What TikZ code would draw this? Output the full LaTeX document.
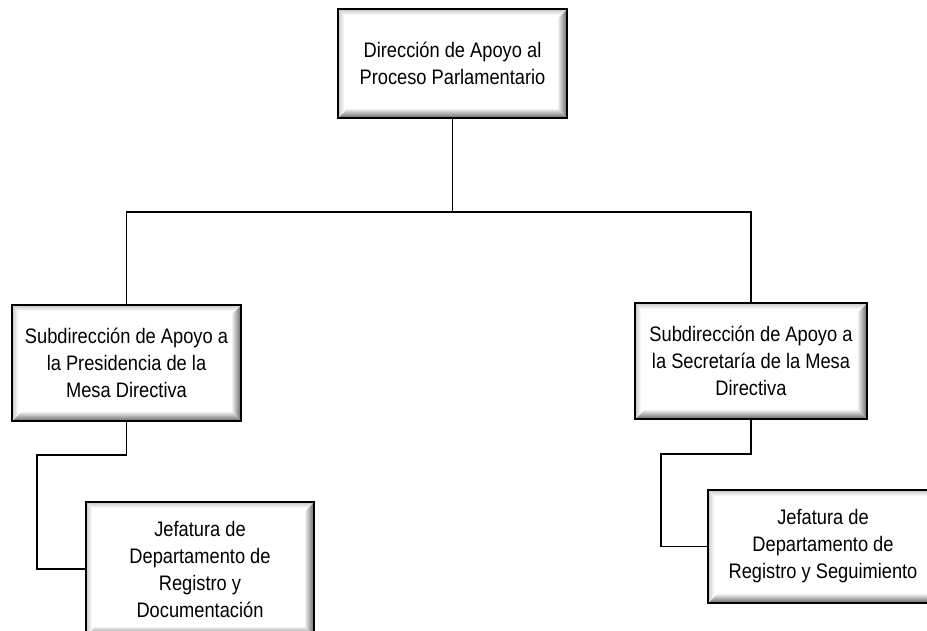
\documentclass[tikz,border=0pt]{standalone}
\usepackage{fontspec}
\setmainfont{Liberation Sans}[FakeStretch=0.87]
\usetikzlibrary{calc}
\tikzset{
  orgbox/.style={rectangle, draw=black, line width=2.4pt, fill=white, inner sep=0pt,
    align=center, font=\fontsize{21}{27}\selectfont,
    path picture={
      \coordinate (ne) at (path picture bounding box.north east);
      \coordinate (se) at (path picture bounding box.south east);
      \coordinate (sw) at (path picture bounding box.south west);
      \coordinate (nw) at (path picture bounding box.north west);
      \shade[left color=white, right color=black!60]
        (ne) -- (se) -- ([shift={(-10pt,10pt)}]se) -- ([shift={(-10pt,-10pt)}]ne) -- cycle;
      \shade[top color=white, bottom color=black!60]
        (sw) -- (se) -- ([shift={(-10pt,10pt)}]se) -- ([shift={(10pt,10pt)}]sw) -- cycle;
      \shade[left color=black!22, right color=white]
        (nw) -- (sw) -- ([shift={(6pt,6pt)}]sw) -- ([shift={(6pt,-6pt)}]nw) -- cycle;
      \shade[top color=black!22, bottom color=white]
        (nw) -- (ne) -- ([shift={(-6pt,-6pt)}]ne) -- ([shift={(6pt,-6pt)}]nw) -- cycle;
    }},
  link/.style={draw=black, line width=1.8pt}
}
\begin{document}
\begin{tikzpicture}[x=1pt, y=-1pt]
\clip (0,0) rectangle (927,630);
\fill[white] (0,0) rectangle (927,630);

\node[orgbox, minimum width=229pt, minimum height=109pt] (top) at (452.5,63.5)
  {Dirección de Apoyo al\\Proceso Parlamentario};
\node[orgbox, minimum width=229pt, minimum height=116pt] (lsub) at (126.5,363)
  {Subdirección de Apoyo a\\la Presidencia de la\\Mesa Directiva};
\node[orgbox, minimum width=232pt, minimum height=116pt] (rsub) at (751,361)
  {Subdirección de Apoyo a\\la Secretaría de la Mesa\\Directiva};
\node[orgbox, minimum width=228pt, minimum height=134pt] (lchild) at (200,569)
  {Jefatura de\\Departamento de\\Registro y\\Documentación};
\node[orgbox, minimum width=230pt, minimum height=113pt] (rchild) at (823,546.5)
  {Jefatura de\\Departamento de\\Registro y Seguimiento};

\coordinate (bus) at (452.5,212);
\coordinate (lbend) at (37,455);
\coordinate (rbend) at (661,454);

\draw[link] (top.south) -- (bus);
\draw[link] (bus) -| (lsub.north);
\draw[link] (bus) -| (rsub.north);
\draw[link] (lsub.south) |- (lbend) |- (lchild.west);
\draw[link] (rsub.south) |- (rbend) |- (rchild.west);
\end{tikzpicture}
\end{document}
